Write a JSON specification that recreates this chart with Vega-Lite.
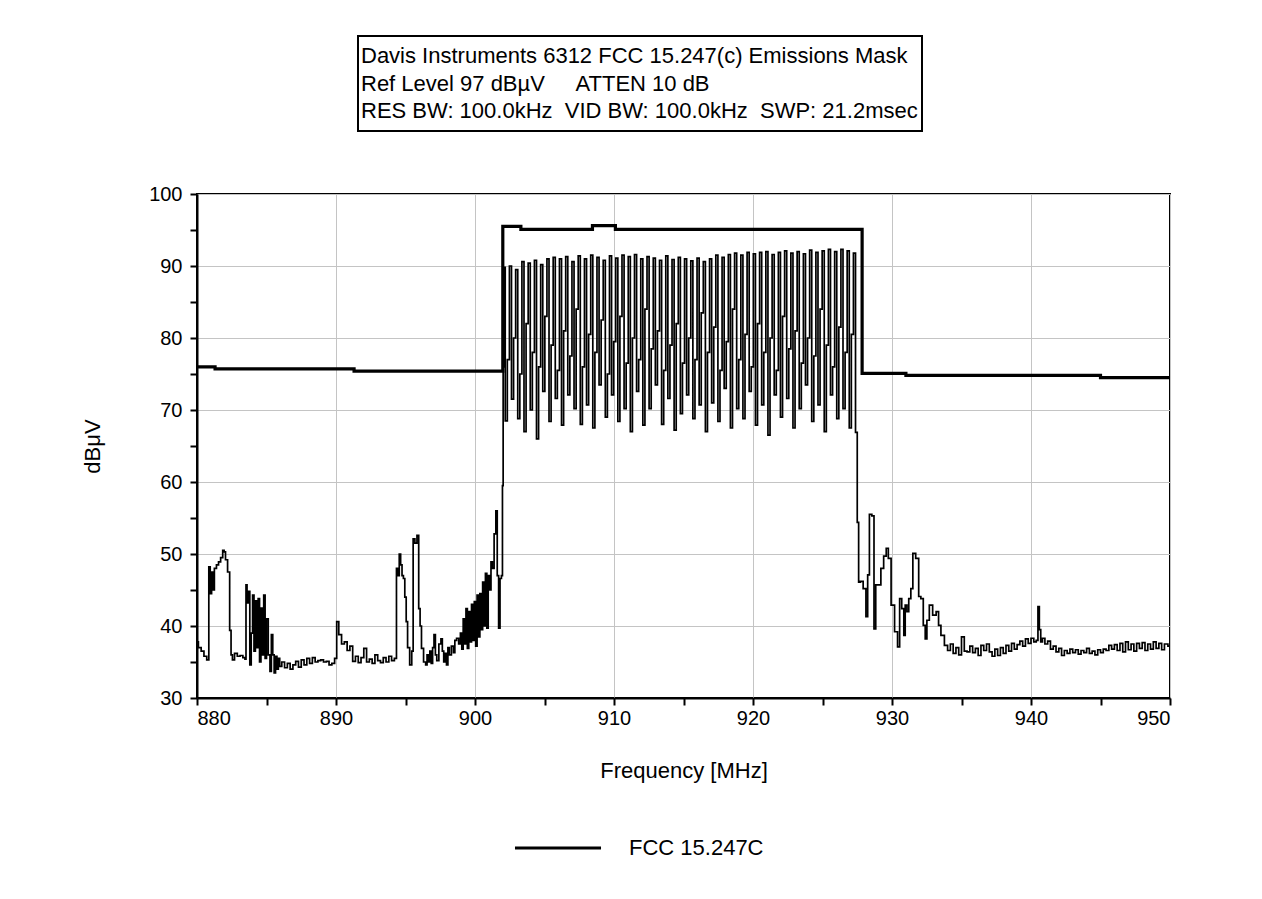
{
  "$schema": "https://vega.github.io/schema/vega-lite/v6.json",
  "background": "white",
  "padding": {"left": 80, "top": 35, "right": 20, "bottom": 10},
  "spacing": 51,
  "config": {
    "font": "Liberation Sans",
    "view": {"stroke": "black", "strokeWidth": 2},
    "legend": {"layout": {"bottom": {"anchor": "middle"}}}
  },
  "datasets": {
    "header": [
      {"line": 1, "text": "Davis Instruments 6312 FCC 15.247(c) Emissions Mask"},
      {"line": 2, "text": "Ref Level 97 dBµV \u00a0\u00a0\u00a0\u00a0ATTEN 10 dB"},
      {"line": 3, "text": "RES BW: 100.0kHz \u00a0VID BW: 100.0kHz \u00a0SWP: 21.2msec"}
    ],
    "mask": [
      {"f": 880, "v": 76.0}, {"f": 881.3, "v": 75.7}, {"f": 891.3, "v": 75.4},
      {"f": 902.0, "v": 95.5}, {"f": 903.3, "v": 95.1}, {"f": 908.45, "v": 95.6},
      {"f": 910.1, "v": 95.1}, {"f": 927.85, "v": 75.1}, {"f": 931.0, "v": 74.8},
      {"f": 945.0, "v": 74.5}, {"f": 950.0, "v": 74.5}
    ],
    "trace": [
      {"f":880.0,"v":37.8},{"f":880.2,"v":37.0},{"f":880.4,"v":36.5},{"f":880.6,"v":35.8},{"f":880.8,"v":35.3},
      {"f":880.9,"v":48.2},{"f":881.0,"v":44.5},{"f":881.1,"v":47.5},{"f":881.2,"v":45.0},{"f":881.3,"v":48.0},
      {"f":881.5,"v":48.5},{"f":881.6,"v":48.9},{"f":881.8,"v":49.5},{"f":881.9,"v":50.5},{"f":882.0,"v":50.3},
      {"f":882.1,"v":49.2},{"f":882.3,"v":47.5},{"f":882.4,"v":39.4},{"f":882.5,"v":36.0},{"f":882.6,"v":35.3},
      {"f":882.8,"v":36.2},{"f":883.0,"v":35.8},{"f":883.2,"v":35.9},{"f":883.4,"v":35.6},{"f":883.5,"v":35.4},
      {"f":883.55,"v":45.7},{"f":883.65,"v":43.2},{"f":883.75,"v":44.8},{"f":883.85,"v":34.6},{"f":883.95,"v":39.0},
      {"f":884.05,"v":44.3},{"f":884.15,"v":36.5},{"f":884.25,"v":43.5},{"f":884.35,"v":37.0},{"f":884.45,"v":43.8},
      {"f":884.55,"v":35.0},{"f":884.65,"v":42.5},{"f":884.75,"v":36.0},{"f":884.85,"v":44.3},{"f":884.95,"v":35.5},
      {"f":885.05,"v":41.0},{"f":885.2,"v":36.0},{"f":885.3,"v":33.7},{"f":885.4,"v":38.8},{"f":885.5,"v":36.0},
      {"f":885.6,"v":33.5},{"f":885.7,"v":35.8},{"f":885.8,"v":34.0},{"f":885.9,"v":35.5},{"f":886.0,"v":34.4},
      {"f":886.2,"v":35.0},{"f":886.4,"v":34.2},{"f":886.6,"v":34.8},{"f":886.8,"v":34.0},{"f":887.0,"v":34.6},
      {"f":887.2,"v":35.1},{"f":887.4,"v":34.3},{"f":887.6,"v":35.3},{"f":887.8,"v":34.6},{"f":888.0,"v":35.5},
      {"f":888.2,"v":34.8},{"f":888.4,"v":35.6},{"f":888.6,"v":35.0},{"f":888.8,"v":35.2},{"f":889.0,"v":35.3},
      {"f":889.2,"v":35.0},{"f":889.4,"v":35.1},{"f":889.6,"v":34.6},{"f":889.8,"v":34.8},{"f":890.0,"v":35.5},
      {"f":890.1,"v":40.6},{"f":890.3,"v":38.8},{"f":890.5,"v":37.5},{"f":890.7,"v":37.8},{"f":890.9,"v":36.6},
      {"f":891.1,"v":37.2},{"f":891.3,"v":35.1},{"f":891.5,"v":35.8},{"f":891.7,"v":34.9},{"f":891.9,"v":35.6},
      {"f":892.1,"v":36.9},{"f":892.3,"v":35.0},{"f":892.5,"v":35.4},{"f":892.7,"v":34.8},{"f":892.9,"v":36.0},
      {"f":893.1,"v":35.2},{"f":893.3,"v":34.9},{"f":893.5,"v":35.6},{"f":893.7,"v":35.0},{"f":893.9,"v":35.8},
      {"f":894.1,"v":35.2},{"f":894.3,"v":35.5},{"f":894.4,"v":48.0},{"f":894.5,"v":47.0},{"f":894.6,"v":50.0},
      {"f":894.7,"v":48.5},{"f":894.8,"v":47.0},{"f":894.9,"v":46.6},{"f":895.0,"v":44.0},{"f":895.1,"v":40.6},
      {"f":895.2,"v":37.0},{"f":895.4,"v":34.6},{"f":895.5,"v":36.5},{"f":895.6,"v":52.1},{"f":895.75,"v":51.5},
      {"f":895.9,"v":52.6},{"f":896.0,"v":42.4},{"f":896.1,"v":40.0},{"f":896.2,"v":36.9},{"f":896.4,"v":35.0},
      {"f":896.5,"v":34.6},{"f":896.6,"v":36.0},{"f":896.7,"v":35.0},{"f":896.8,"v":36.5},{"f":896.9,"v":34.8},
      {"f":897.0,"v":37.0},{"f":897.1,"v":38.8},{"f":897.2,"v":36.0},{"f":897.3,"v":35.2},{"f":897.5,"v":37.5},
      {"f":897.6,"v":38.2},{"f":897.7,"v":36.5},{"f":897.8,"v":35.0},{"f":897.9,"v":36.2},{"f":898.0,"v":34.6},
      {"f":898.1,"v":37.0},{"f":898.2,"v":36.0},{"f":898.4,"v":37.2},{"f":898.5,"v":36.3},{"f":898.6,"v":38.0},
      {"f":898.75,"v":38.3},{"f":898.9,"v":37.5},{"f":899.0,"v":39.0},{"f":899.1,"v":36.8},{"f":899.2,"v":41.0},
      {"f":899.3,"v":37.5},{"f":899.4,"v":42.4},{"f":899.5,"v":36.9},{"f":899.6,"v":42.0},{"f":899.7,"v":37.8},
      {"f":899.8,"v":43.0},{"f":899.9,"v":38.0},{"f":900.0,"v":43.4},{"f":900.1,"v":37.2},{"f":900.2,"v":44.3},
      {"f":900.3,"v":38.5},{"f":900.4,"v":44.5},{"f":900.5,"v":39.5},{"f":900.6,"v":46.1},{"f":900.7,"v":40.0},
      {"f":900.8,"v":47.3},{"f":900.9,"v":39.7},{"f":901.0,"v":47.0},{"f":901.1,"v":45.0},{"f":901.2,"v":48.9},
      {"f":901.3,"v":48.0},{"f":901.45,"v":52.8},{"f":901.55,"v":56.0},{"f":901.65,"v":47.0},{"f":901.75,"v":39.7},
      {"f":901.85,"v":46.6},{"f":901.95,"v":47.0},{"f":902.0,"v":59.5},{"f":902.05,"v":76.0},
      {"f":902.10,"v":89.8},{"f":902.25,"v":68.5},{"f":902.40,"v":77.0},{"f":902.55,"v":90.0},{"f":902.70,"v":71.5},
      {"f":902.85,"v":80.0},{"f":903.00,"v":89.5},{"f":903.15,"v":68.8},{"f":903.30,"v":75.0},{"f":903.45,"v":90.6},
      {"f":903.60,"v":67.0},{"f":903.75,"v":82.0},{"f":903.90,"v":90.4},{"f":904.05,"v":70.0},{"f":904.20,"v":78.0},
      {"f":904.35,"v":90.8},{"f":904.50,"v":66.0},{"f":904.65,"v":76.0},{"f":904.80,"v":90.2},{"f":904.95,"v":72.6},
      {"f":905.10,"v":83.0},{"f":905.25,"v":91.0},{"f":905.40,"v":68.4},{"f":905.55,"v":79.0},{"f":905.70,"v":91.2},
      {"f":905.85,"v":71.6},{"f":906.00,"v":75.5},{"f":906.15,"v":91.0},{"f":906.30,"v":67.9},{"f":906.45,"v":81.0},
      {"f":906.60,"v":91.3},{"f":906.75,"v":72.1},{"f":906.90,"v":77.5},{"f":907.05,"v":90.6},{"f":907.20,"v":70.2},
      {"f":907.35,"v":84.0},{"f":907.50,"v":91.4},{"f":907.65,"v":68.0},{"f":907.80,"v":76.0},{"f":907.95,"v":91.0},
      {"f":908.10,"v":70.7},{"f":908.25,"v":80.5},{"f":908.40,"v":91.5},{"f":908.55,"v":67.5},{"f":908.70,"v":78.0},
      {"f":908.85,"v":91.2},{"f":909.00,"v":73.5},{"f":909.15,"v":82.5},{"f":909.30,"v":90.8},{"f":909.45,"v":69.0},
      {"f":909.60,"v":75.0},{"f":909.75,"v":91.4},{"f":909.90,"v":72.1},{"f":910.05,"v":79.5},{"f":910.20,"v":91.1},
      {"f":910.35,"v":68.4},{"f":910.50,"v":83.0},{"f":910.65,"v":91.5},{"f":910.80,"v":70.2},{"f":910.95,"v":76.5},
      {"f":911.10,"v":91.3},{"f":911.25,"v":67.0},{"f":911.40,"v":80.0},{"f":911.55,"v":91.6},{"f":911.70,"v":72.6},
      {"f":911.85,"v":77.0},{"f":912.00,"v":91.0},{"f":912.15,"v":67.9},{"f":912.30,"v":84.0},{"f":912.45,"v":91.3},
      {"f":912.60,"v":70.2},{"f":912.75,"v":78.5},{"f":912.90,"v":91.1},{"f":913.05,"v":73.5},{"f":913.20,"v":81.0},
      {"f":913.35,"v":90.8},{"f":913.50,"v":68.0},{"f":913.65,"v":75.5},{"f":913.80,"v":91.4},{"f":913.95,"v":71.6},
      {"f":914.10,"v":79.0},{"f":914.25,"v":90.9},{"f":914.40,"v":67.2},{"f":914.55,"v":82.0},{"f":914.70,"v":91.2},
      {"f":914.85,"v":69.5},{"f":915.00,"v":76.5},{"f":915.15,"v":91.0},{"f":915.30,"v":72.1},{"f":915.45,"v":80.0},
      {"f":915.60,"v":90.7},{"f":915.75,"v":68.8},{"f":915.90,"v":77.0},{"f":916.05,"v":91.1},{"f":916.20,"v":70.7},
      {"f":916.35,"v":83.5},{"f":916.50,"v":90.6},{"f":916.65,"v":67.0},{"f":916.80,"v":78.0},{"f":916.95,"v":91.0},
      {"f":917.10,"v":71.0},{"f":917.25,"v":81.5},{"f":917.40,"v":91.5},{"f":917.55,"v":68.4},{"f":917.70,"v":75.5},
      {"f":917.85,"v":91.2},{"f":918.00,"v":73.0},{"f":918.15,"v":79.5},{"f":918.30,"v":91.6},{"f":918.45,"v":67.5},
      {"f":918.60,"v":84.0},{"f":918.75,"v":91.8},{"f":918.90,"v":70.2},{"f":919.05,"v":77.0},{"f":919.20,"v":91.5},
      {"f":919.35,"v":68.8},{"f":919.50,"v":80.5},{"f":919.65,"v":91.9},{"f":919.80,"v":72.6},{"f":919.95,"v":76.0},
      {"f":920.10,"v":91.7},{"f":920.25,"v":67.9},{"f":920.40,"v":82.0},{"f":920.55,"v":91.9},{"f":920.70,"v":70.7},
      {"f":920.85,"v":78.0},{"f":921.00,"v":92.0},{"f":921.15,"v":66.5},{"f":921.30,"v":80.0},{"f":921.45,"v":91.6},
      {"f":921.60,"v":72.1},{"f":921.75,"v":75.5},{"f":921.90,"v":91.9},{"f":922.05,"v":69.0},{"f":922.20,"v":83.0},
      {"f":922.35,"v":92.1},{"f":922.50,"v":71.6},{"f":922.65,"v":78.5},{"f":922.80,"v":91.8},{"f":922.95,"v":67.5},
      {"f":923.10,"v":81.0},{"f":923.25,"v":92.0},{"f":923.40,"v":70.2},{"f":923.55,"v":76.5},{"f":923.70,"v":91.7},
      {"f":923.85,"v":73.5},{"f":924.00,"v":80.0},{"f":924.15,"v":92.2},{"f":924.30,"v":68.4},{"f":924.45,"v":77.5},
      {"f":924.60,"v":91.9},{"f":924.75,"v":70.7},{"f":924.90,"v":84.0},{"f":925.05,"v":92.1},{"f":925.20,"v":67.0},
      {"f":925.35,"v":79.0},{"f":925.50,"v":92.3},{"f":925.65,"v":72.1},{"f":925.80,"v":76.0},{"f":925.95,"v":92.0},
      {"f":926.10,"v":68.8},{"f":926.25,"v":81.5},{"f":926.40,"v":92.3},{"f":926.55,"v":70.2},{"f":926.70,"v":78.0},
      {"f":926.85,"v":92.1},{"f":927.00,"v":67.5},{"f":927.15,"v":80.5},{"f":927.30,"v":91.8},{"f":927.45,"v":66.9},
      {"f":927.55,"v":54.4},{"f":927.65,"v":46.1},{"f":927.8,"v":46.2},{"f":928.05,"v":45.2},{"f":928.2,"v":41.3},
      {"f":928.3,"v":47.1},{"f":928.45,"v":55.5},{"f":928.65,"v":55.3},{"f":928.76,"v":39.6},{"f":928.9,"v":45.7},
      {"f":929.1,"v":45.7},{"f":929.3,"v":48.0},{"f":929.5,"v":49.7},{"f":929.67,"v":50.8},{"f":929.8,"v":49.4},
      {"f":930.07,"v":42.9},{"f":930.3,"v":39.2},{"f":930.5,"v":37.1},{"f":930.6,"v":43.8},{"f":930.8,"v":42.4},
      {"f":930.9,"v":38.7},{"f":931.0,"v":42.9},{"f":931.15,"v":42.0},{"f":931.26,"v":43.8},{"f":931.45,"v":45.2},
      {"f":931.55,"v":50.1},{"f":931.86,"v":49.4},{"f":931.98,"v":44.1},{"f":932.17,"v":43.8},{"f":932.33,"v":40.1},
      {"f":932.45,"v":38.2},{"f":932.57,"v":40.8},{"f":932.8,"v":42.9},{"f":933.05,"v":41.5},{"f":933.3,"v":42.0},
      {"f":933.4,"v":40.1},{"f":933.64,"v":38.7},{"f":933.9,"v":37.3},{"f":934.1,"v":36.6},{"f":934.3,"v":37.5},
      {"f":934.5,"v":36.2},{"f":934.7,"v":37.0},{"f":934.9,"v":36.0},{"f":935.1,"v":38.5},{"f":935.3,"v":36.5},
      {"f":935.5,"v":36.4},{"f":935.7,"v":37.2},{"f":935.9,"v":36.3},{"f":936.1,"v":36.9},{"f":936.3,"v":35.9},
      {"f":936.5,"v":37.3},{"f":936.7,"v":36.6},{"f":936.9,"v":37.5},{"f":937.1,"v":36.4},{"f":937.3,"v":35.8},
      {"f":937.5,"v":36.8},{"f":937.7,"v":35.9},{"f":937.9,"v":37.0},{"f":938.1,"v":36.2},{"f":938.3,"v":37.3},
      {"f":938.5,"v":36.5},{"f":938.7,"v":37.6},{"f":938.9,"v":36.8},{"f":939.1,"v":37.4},{"f":939.3,"v":37.9},
      {"f":939.5,"v":37.2},{"f":939.7,"v":38.2},{"f":939.9,"v":37.6},{"f":940.1,"v":38.3},{"f":940.3,"v":37.8},
      {"f":940.45,"v":38.0},{"f":940.55,"v":42.7},{"f":940.65,"v":39.5},{"f":940.75,"v":37.8},{"f":940.9,"v":38.3},
      {"f":941.1,"v":37.5},{"f":941.3,"v":37.9},{"f":941.5,"v":36.8},{"f":941.7,"v":37.2},{"f":941.9,"v":36.4},
      {"f":942.1,"v":36.9},{"f":942.3,"v":35.9},{"f":942.5,"v":36.6},{"f":942.7,"v":36.2},{"f":942.9,"v":36.8},
      {"f":943.1,"v":36.3},{"f":943.3,"v":36.7},{"f":943.5,"v":36.1},{"f":943.7,"v":36.6},{"f":943.9,"v":36.3},
      {"f":944.1,"v":36.9},{"f":944.3,"v":36.2},{"f":944.5,"v":36.5},{"f":944.7,"v":36.0},{"f":944.9,"v":36.7},
      {"f":945.1,"v":36.3},{"f":945.3,"v":36.8},{"f":945.5,"v":36.6},{"f":945.7,"v":37.3},{"f":945.9,"v":36.8},
      {"f":946.1,"v":37.4},{"f":946.3,"v":36.6},{"f":946.5,"v":37.6},{"f":946.7,"v":36.4},{"f":946.9,"v":37.8},
      {"f":947.1,"v":36.7},{"f":947.3,"v":37.5},{"f":947.5,"v":36.5},{"f":947.7,"v":37.6},{"f":947.9,"v":36.9},
      {"f":948.1,"v":37.7},{"f":948.3,"v":36.6},{"f":948.5,"v":37.5},{"f":948.7,"v":36.8},{"f":948.9,"v":37.8},
      {"f":949.1,"v":36.9},{"f":949.3,"v":37.6},{"f":949.5,"v":36.7},{"f":949.7,"v":37.5},{"f":950.0,"v":37.2}
    ]
  },
  "vconcat": [
    {
      "spacing": 20,
      "hconcat": [
        {
          "width": 140,
          "height": 95,
          "view": {"stroke": null},
          "data": {"values": [{}]},
          "mark": {"type": "text"},
          "encoding": {"text": {"value": ""}}
        },
        {
          "width": 564,
          "height": 95,
          "data": {"name": "header"},
          "mark": {"type": "text", "align": "left", "baseline": "middle", "fontSize": 22, "dx": 3, "color": "black"},
          "encoding": {
            "x": {"datum": 0, "type": "quantitative", "scale": {"domain": [0, 1]}, "axis": null},
            "y": {"field": "line", "type": "ordinal", "axis": null, "scale": {"padding": 0.75}},
            "text": {"field": "text", "type": "nominal"}
          }
        }
      ]
    },
    {
      "width": 973,
      "height": 504,
      "encoding": {
        "x": {
          "field": "f", "type": "quantitative",
          "scale": {"domain": [880, 950], "nice": false, "zero": false},
          "axis": {
            "title": "Frequency [MHz]",
            "values": [880, 885, 890, 895, 900, 905, 910, 915, 920, 925, 930, 935, 940, 945, 950],
            "labelExpr": "datum.value % 10 === 0 ? datum.label : ''",
            "gridOpacity": {"condition": {"test": "datum.value % 10 !== 0", "value": 0}, "value": 1},
            "gridColor": "#c4c4c4", "gridWidth": 1,
            "domainColor": "black", "domainWidth": 2,
            "tickColor": "black", "tickWidth": 2, "tickSize": 7,
            "labelFontSize": 20, "labelColor": "black", "labelPadding": 3,
            "titleFontSize": 22, "titleFontWeight": "normal", "titleColor": "black", "titlePadding": 32
          }
        },
        "y": {
          "field": "v", "type": "quantitative",
          "scale": {"domain": [30, 100], "nice": false, "zero": false},
          "axis": {
            "title": "dBμV",
            "values": [30, 35, 40, 45, 50, 55, 60, 65, 70, 75, 80, 85, 90, 95, 100],
            "labelExpr": "datum.value % 10 === 0 ? datum.label : ''",
            "gridOpacity": {"condition": {"test": "datum.value % 10 !== 0", "value": 0}, "value": 1},
            "gridColor": "#c4c4c4", "gridWidth": 1,
            "domainColor": "black", "domainWidth": 2,
            "tickColor": "black", "tickWidth": 2, "tickSize": 7,
            "labelFontSize": 20, "labelColor": "black", "labelPadding": 8,
            "titleFontSize": 22, "titleFontWeight": "normal", "titleColor": "black", "titlePadding": 44
          }
        }
      },
      "layer": [
        {
          "data": {"name": "trace"},
          "mark": {"type": "line", "interpolate": "step", "color": "black", "strokeWidth": 1.7, "clip": true}
        },
        {
          "data": {"name": "mask"},
          "mark": {"type": "line", "interpolate": "step-after", "strokeWidth": 3.2, "clip": true},
          "encoding": {
            "color": {
              "datum": "FCC 15.247C", "type": "nominal",
              "scale": {"range": ["black"]},
              "legend": {
                "title": null, "orient": "bottom", "offset": 21,
                "symbolType": "stroke", "symbolSize": 7400, "symbolStrokeWidth": 3.2, "symbolOffset": 24,
                "labelFontSize": 22, "labelColor": "black", "labelOffset": 26
              }
            }
          }
        }
      ]
    }
  ]
}
